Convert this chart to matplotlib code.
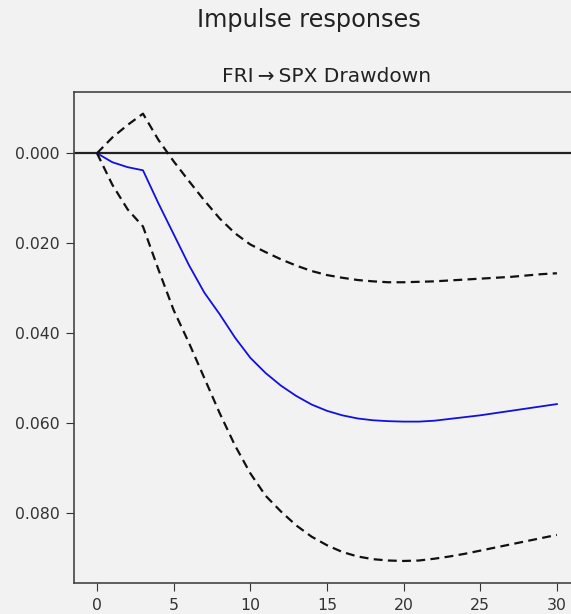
import matplotlib
matplotlib.use("Agg")
import matplotlib.pyplot as plt
from matplotlib.ticker import FuncFormatter
import numpy as np

periods = list(range(31))
irf = [0.0, -0.0020, -0.0031, -0.0038, -0.0111, -0.0180, -0.0249, -0.0310, -0.0358,
       -0.0410, -0.0455, -0.0489, -0.0517, -0.0540, -0.0559, -0.0573, -0.0583, -0.0590,
       -0.0594, -0.0596, -0.0597, -0.0597, -0.0595, -0.0591, -0.0587, -0.0583, -0.0578,
       -0.0573, -0.0568, -0.0563, -0.0558]
upper = [0.0, 0.0035, 0.0063, 0.0088, 0.0030, -0.0018, -0.0062, -0.0105, -0.0145,
         -0.0178, -0.0203, -0.0220, -0.0236, -0.0250, -0.0262, -0.0271, -0.0277, -0.0282,
         -0.0285, -0.0287, -0.0287, -0.0286, -0.0285, -0.0283, -0.0281, -0.0279, -0.0277,
         -0.0275, -0.0272, -0.0269, -0.0267]
lower = [0.0, -0.0070, -0.0125, -0.0163, -0.0258, -0.0349, -0.0422, -0.0500, -0.0578,
         -0.0650, -0.0712, -0.0762, -0.0797, -0.0828, -0.0853, -0.0872, -0.0887, -0.0897,
         -0.0903, -0.0906, -0.0907, -0.0906, -0.0902, -0.0897, -0.0891, -0.0884, -0.0877,
         -0.0870, -0.0863, -0.0856, -0.0849]
xticks = [0, 5, 10, 15, 20, 25, 30]
yticks = [0.0, -0.02, -0.04, -0.06, -0.08]

bg = "#f2f2f2"
fig = plt.figure(figsize=(5.71, 6.14), dpi=100, facecolor=bg)
ax = fig.add_axes([0.1296, 0.0505, 0.886, 0.7995], facecolor=bg)

ax.axhline(0, color="#222222", lw=1.6)
ax.plot(periods, irf, color="#1010e0", lw=1.3)
ax.plot(periods, upper, color="#111111", ls="--", lw=1.6, dashes=(4, 2.4))
ax.plot(periods, lower, color="#111111", ls="--", lw=1.6, dashes=(4, 2.4))

ax.set_xlim(-1.5, 31.5)
ax.set_ylim(-0.0956, 0.0136)
ax.set_xticks(xticks)
ax.set_yticks(yticks)
ax.yaxis.set_major_formatter(FuncFormatter(lambda v, p: f"{abs(v):.3f}"))
ax.tick_params(labelsize=11.3, colors="#333333", length=5.5, pad=5)
for s in ax.spines.values():
    s.set_color("#444444")
    s.set_linewidth(1.2)

ax.set_title("FRI\u2009\u2192\u2009SPX Drawdown", fontsize=14.5, color="#222222", pad=7)
fig.text(0.541, 0.968, "Impulse responses", ha="center", va="center",
         fontsize=17.3, color="#222222")

fig.savefig("out.png", dpi=100, facecolor=bg)
